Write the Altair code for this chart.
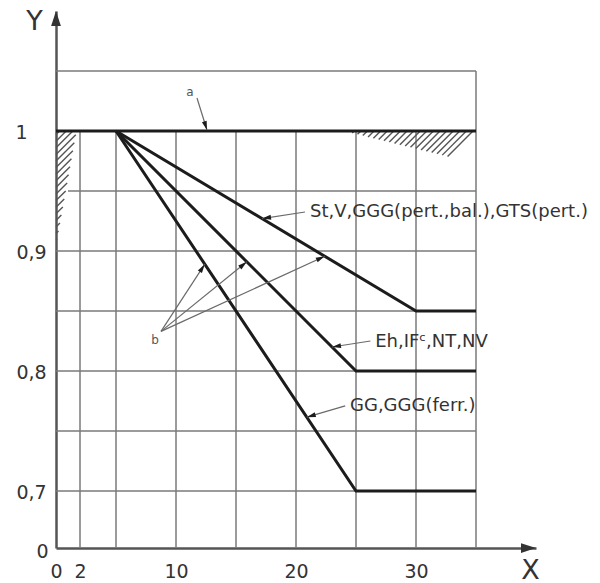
import math
import altair as alt
import pandas as pd

# ---------------- data ----------------
X_DOMAIN = [0, 40]
Y_DOMAIN = [0.6525, 1.1]
W, H = 480, 537

curve1_x = [5, 30, 35]; curve1_y = [1.0, 0.85, 0.85]
curve2_x = [5, 25, 35]; curve2_y = [1.0, 0.80, 0.80]
curve3_x = [5, 25, 35]; curve3_y = [1.0, 0.70, 0.70]
line_a_x = [0, 35];     line_a_y = [1.0, 1.0]

hgrid_y = [0.7, 0.75, 0.8, 0.85, 0.9, 0.95, 1.05]
hgrid_x0 = [0, 0, 0, 0, 0, 1.0, 0]
hgrid_x1 = [35, 35, 35, 35, 35, 35, 35]
vgrid_x = [2, 5, 10, 15, 20, 25, 30, 35]
vgrid_top = [1.0, 1.0, 1.0, 1.0, 1.0, 1.0, 1.0, 1.05]

x_ticks = [0, 2, 10, 20, 30]
y_ticks = [Y_DOMAIN[0], 0.7, 0.8, 0.9, 1.0]

# hatched wedges
left_x_top, left_y_bottom = 1.7, 0.905
right_x_start, right_x_end, right_depth = 24.0, 35.0, 0.027

# annotations
label_texts = ["St,V,GGG(pert.,bal.),GTS(pert.)", "Eh,IF\u1d9c,NT,NV", "GG,GGG(ferr.)"]
label_x = [21.17, 26.6, 24.5]
label_y = [0.9325, 0.824, 0.771]
leader_x0 = [20.75, 26.2, 24.1]
leader_y0 = [0.9325, 0.825, 0.771]
leader_x1 = [17.17, 23.0, 20.9]
leader_y1 = [0.927, 0.82, 0.7615]

small_texts = ["a", "b"]
small_x = [11.17, 8.25]
small_y = [1.0325, 0.826]
a_x0, a_y0, a_x1, a_y1 = 11.75, 1.0275, 12.58, 1.0008
b_x0, b_y0 = 8.75, 0.833
b_tip_x = [12.4, 15.9, 22.4]
b_tip_y = [0.889, 0.891, 0.8956]

# ---------------- helpers ----------------
PX_X = W / (X_DOMAIN[1] - X_DOMAIN[0])
PX_Y = H / (Y_DOMAIN[1] - Y_DOMAIN[0])
K = PX_X / PX_Y  # y-units per x-unit for a 45 degree stroke

xs = alt.Scale(domain=X_DOMAIN, nice=False, zero=False)
ys = alt.Scale(domain=Y_DOMAIN, nice=False, zero=False)

segs = []
for yv, a, b in zip(hgrid_y, hgrid_x0, hgrid_x1):
    segs.append(dict(x=a, x2=b, y=yv, y2=yv))
for xv, top in zip(vgrid_x, vgrid_top):
    segs.append(dict(x=xv, x2=xv, y=Y_DOMAIN[0], y2=top))
grid_df = pd.DataFrame(segs)

# hatch strokes ("/" direction)
hatch = []
y0 = left_y_bottom + 0.004
while y0 < 1.0:
    slope_b = left_x_top / (1.0 - left_y_bottom)
    t = slope_b * (y0 - left_y_bottom) / (1 - slope_b * K)
    t = min(t, (1.0 - y0) / K)
    hatch.append(dict(x=0, y=y0, x2=t, y2=y0 + K * t))
    y0 += 0.0055
x0 = right_x_start + 0.3
while x0 <= right_x_end:
    g = right_depth / (right_x_end - right_x_start)
    t = g * (x0 - right_x_start) / (K + g)
    hatch.append(dict(x=x0 - t, y=1.0 - K * t, x2=x0, y2=1.0))
    x0 += 0.55
hatch_df = pd.DataFrame(hatch)

lines_df = pd.concat([
    pd.DataFrame(dict(x=curve1_x, y=curve1_y, s="c1")),
    pd.DataFrame(dict(x=curve2_x, y=curve2_y, s="c2")),
    pd.DataFrame(dict(x=curve3_x, y=curve3_y, s="c3")),
    pd.DataFrame(dict(x=line_a_x, y=line_a_y, s="a")),
])

lead = []
for a, b, c, d in zip(leader_x0, leader_y0, leader_x1, leader_y1):
    lead.append(dict(x=a, y=b, x2=c, y2=d))
lead.append(dict(x=a_x0, y=a_y0, x2=a_x1, y2=a_y1))
for c, d in zip(b_tip_x, b_tip_y):
    lead.append(dict(x=b_x0, y=b_y0, x2=c, y2=d))
lead_df = pd.DataFrame(lead)


def ang(r):
    dx = (r["x2"] - r["x"]) * PX_X
    dy = -(r["y2"] - r["y"]) * PX_Y
    return math.degrees(math.atan2(dx, -dy)) % 360


heads_df = pd.DataFrame([dict(x=r["x2"], y=r["y2"], ang=ang(r)) for _, r in lead_df.iterrows()])
axis_heads_df = pd.DataFrame(dict(x=[X_DOMAIN[0], X_DOMAIN[1]], y=[Y_DOMAIN[1], Y_DOMAIN[0]], ang=[0, 90]))

labels_df = pd.DataFrame(dict(x=label_x, y=label_y, t=label_texts))
small_df = pd.DataFrame(dict(x=small_x, y=small_y, t=small_texts))

FONT = "DejaVu Sans"
GRID = "#7a7a7a"
INK = "#1c1c1c"
TXT = "#333333"
ARROW = "M0,0L0.55,2L-0.55,2Z"
AXARROW = "M0,0L0.65,2L-0.65,2Z"

y_label_expr = ("datum.value < 0.66 ? '0' : (datum.value > 0.99 ? '1' : "
                "replace(format(datum.value, '.1f'), '.', ','))")

x_axis = alt.Axis(values=x_ticks, grid=False, ticks=False, tickSize=0,
                  domainColor="#555555", domainWidth=2.5,
                  labelFont=FONT, labelFontSize=19, labelColor=TXT,
                  labelPadding=23, labelBaseline="middle", labelAlign="center",
                  labelFlush=False, labelOverlap=False,
                  title="X", titleFont=FONT, titleFontSize=27, titleFontWeight="normal",
                  titleColor=TXT, titleX=474, titleY=22, titleAlign="center",
                  titleBaseline="middle", titleAngle=0)
y_axis = alt.Axis(values=y_ticks, labelExpr=y_label_expr, grid=False, ticks=False, tickSize=0,
                  domainColor="#555555", domainWidth=2.5,
                  labelFont=FONT, labelFontSize=19, labelColor=TXT,
                  labelAlign="center", labelBaseline="middle", labelOverlap=False,
                  labelPadding={"condition": [{"test": "datum.value > 0.99", "value": 35},
                                              {"test": "datum.value < 0.66", "value": 14}],
                                "value": 25},
                  labelOffset={"condition": {"test": "datum.value < 0.66", "value": 3}, "value": 1},
                  title="Y", titleFont=FONT, titleFontSize=27, titleFontWeight="normal",
                  titleColor=TXT, titleX=-22, titleY=10, titleAlign="center",
                  titleBaseline="middle", titleAngle=0)

X = alt.X("x:Q", scale=xs, axis=x_axis)
Y = alt.Y("y:Q", scale=ys, axis=y_axis)

grid = alt.Chart(grid_df).mark_rule(color=GRID, strokeWidth=1.5).encode(
    x=X, x2="x2:Q", y=Y, y2="y2:Q")

hatch_layer = alt.Chart(hatch_df).mark_rule(color="#555555", strokeWidth=1.4).encode(
    x=X, x2="x2:Q", y=Y, y2="y2:Q")

curves = alt.Chart(lines_df).mark_line(color=INK, strokeWidth=3).encode(
    x=X, y=Y, detail="s:N")

leaders = alt.Chart(lead_df).mark_rule(color="#6a6a6a", strokeWidth=1.2).encode(
    x=X, x2="x2:Q", y=Y, y2="y2:Q")

heads = alt.Chart(heads_df).mark_point(shape=ARROW, filled=True, color=INK, size=81, opacity=1).encode(
    x=X, y=Y, angle=alt.Angle("ang:Q", scale=None))

axis_heads = alt.Chart(axis_heads_df).mark_point(shape=AXARROW, filled=True, color="#333333", size=225, opacity=1).encode(
    x=X, y=Y, angle=alt.Angle("ang:Q", scale=None))

labels = alt.Chart(labels_df).mark_text(align="left", baseline="middle", font=FONT, fontSize=18, color=TXT).encode(
    x=X, y=Y, text="t:N")

small = alt.Chart(small_df).mark_text(align="center", baseline="middle", font=FONT, fontSize=12, color="#555555").encode(
    x=X, y=Y, text="t:N")

chart = alt.layer(grid, hatch_layer, curves, leaders, heads, axis_heads, labels, small).properties(
    width=W, height=H,
    autosize=alt.AutoSizeParams(type="none"),
    padding={"left": 56, "top": 11, "right": 64, "bottom": 35},
    background="white",
).configure_view(stroke=None)

chart.save("out.html", embed_options={"renderer": "svg", "actions": False})
